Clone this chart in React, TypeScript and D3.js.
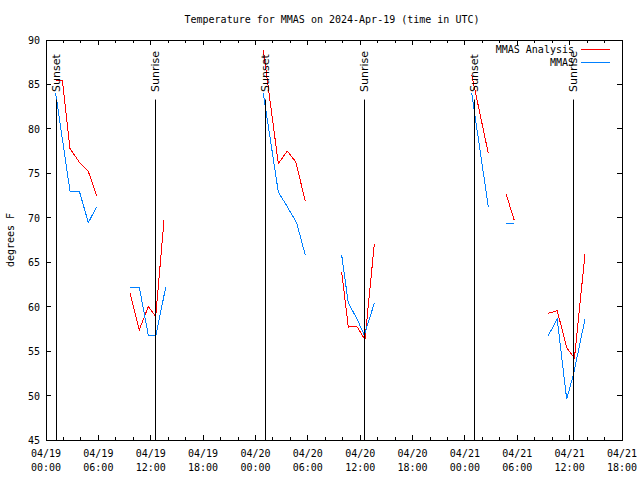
import React from "react";
import * as d3 from "d3";

// hours since 2024-04-19 00:00 UTC
const analysisHours: (number | null)[] = [1.2, 1.87, 2.75, 3.78, 4.85, 5.81, null, 9.63, 10.69, 11.72, 12.57, 13.52, null, 24.9, 26.62, 27.65, 28.61, 29.71, null, 33.88, 34.64, 35.6, 36.55, 37.62, null, 48.78, 50.68, null, 52.71, 53.66, null, 57.55, 58.58, 59.66, 60.55, 61.76];
const analysisTemps: (number | null)[] = [85.5, 85.5, 77.8, 76.3, 75.2, 72.5, null, 61.5, 57.4, 60.0, 58.9, 69.7, null, 88.9, 76.1, 77.5, 76.3, 71.9, null, 63.9, 57.7, 57.8, 56.3, 67.05, null, 86.1, 77.25, null, 72.7, 69.7, null, 59.25, 59.55, 55.4, 54.2, 65.9];

const obsHours: (number | null)[] = [1.11, 2.75, 3.82, 4.85, 5.81, null, 9.63, 10.69, 11.72, 12.6, 13.72, null, 24.9, 26.62, 27.65, 28.73, 29.71, null, 33.88, 34.64, 35.6, 36.47, 37.62, null, 48.78, 50.68, null, 52.71, 53.66, null, 57.55, 58.58, 59.66, 60.42, 61.76];
const obsTemps: (number | null)[] = [84.0, 73.0, 73.0, 69.45, 71.25, null, 62.2, 62.2, 56.8, 56.8, 62.2, null, 84.0, 72.9, 71.25, 69.4, 65.8, null, 65.8, 60.4, 58.7, 56.8, 60.4, null, 84.0, 71.25, null, 69.4, 69.4, null, 56.75, 58.6, 49.6, 52.3, 58.6];

const sunsetHours = [1.18, 25.09, 49.08];
const sunriseHours = [12.52, 36.47, 60.39];

const xTickHours = [0, 6, 12, 18, 24, 30, 36, 42, 48, 54, 60, 66];
const xTickDates = ["04/19", "04/19", "04/19", "04/19", "04/20", "04/20", "04/20", "04/20", "04/21", "04/21", "04/21", "04/21"];
const xTickTimes = ["00:00", "06:00", "12:00", "18:00", "00:00", "06:00", "12:00", "18:00", "00:00", "06:00", "12:00", "18:00"];
const yTicks = [45, 50, 55, 60, 65, 70, 75, 80, 85, 90];

const seriesNames = ["MMAS Analysis", "MMAS"];
const seriesColors = ["#ff0000", "#0080ff"];

const title = "Temperature for MMAS on 2024-Apr-19 (time in UTC)";
const yLabel = "degrees F";
const markerTop = 83.3;

export default function App() {
  const L = 46, R = 622, T = 40, B = 440;
  const x = d3.scaleLinear().domain([0, 66]).range([L, R]);
  const y = d3.scaleLinear().domain([45, 90]).range([B, T]);
  const mono = "'DejaVu Sans Mono', monospace";
  const sans = "'DejaVu Sans', sans-serif";

  const mk = (hs: (number | null)[], vs: (number | null)[]) => {
    const pts = hs.map((h, i) => [h, vs[i]] as [number | null, number | null]);
    return d3
      .line<[number | null, number | null]>()
      .defined((d) => d[0] != null && d[1] != null)
      .x((d) => x(d[0] as number))
      .y((d) => y(d[1] as number))(pts) as string;
  };

  const minorHours = d3.range(0, 67, 2);

  return (
    <svg width={640} height={480} style={{ display: "block", position: "absolute", left: 0, top: 0 }}>
      <rect width={640} height={480} fill="#fff" />
      <text x={332} y={23} textAnchor="middle" fontFamily={mono} fontSize={10}>{title}</text>
      <text transform={`translate(14,${(T + B) / 2}) rotate(-90)`} textAnchor="middle" fontFamily={mono} fontSize={10}>{yLabel}</text>

      {/* ticks */}
      <g stroke="#000" strokeWidth={1} shapeRendering="crispEdges">
        {minorHours.map((h) => {
          const len = h % 6 === 0 ? 5 : 3;
          return (
            <g key={"mx" + h}>
              <line x1={x(h)} x2={x(h)} y1={B} y2={B - len} />
              <line x1={x(h)} x2={x(h)} y1={T} y2={T + len} />
            </g>
          );
        })}
        {yTicks.map((v) => (
          <g key={"yt" + v}>
            <line x1={L} x2={L + 5} y1={y(v)} y2={y(v)} />
            <line x1={R} x2={R - 5} y1={y(v)} y2={y(v)} />
          </g>
        ))}
      </g>
      {yTicks.map((v) => (
        <text key={"yl" + v} x={L - 6} y={y(v) + 4} textAnchor="end" fontFamily={mono} fontSize={10}>{v}</text>
      ))}
      {xTickHours.map((h, i) => (
        <g key={"xl" + h}>
          <text x={x(h)} y={B + 17} textAnchor="middle" fontFamily={mono} fontSize={10}>{xTickDates[i]}</text>
          <text x={x(h)} y={B + 31} textAnchor="middle" fontFamily={mono} fontSize={10}>{xTickTimes[i]}</text>
        </g>
      ))}

      {/* data */}
      <path d={mk(analysisHours, analysisTemps)} fill="none" stroke={seriesColors[0]} strokeWidth={1} shapeRendering="crispEdges" />
      <path d={mk(obsHours, obsTemps)} fill="none" stroke={seriesColors[1]} strokeWidth={1} shapeRendering="crispEdges" />

      {/* sun markers */}
      {sunsetHours.map((h) => (
        <g key={"ss" + h}>
          <line x1={Math.round(x(h)) + 0.5} x2={Math.round(x(h)) + 0.5} y1={y(45)} y2={y(markerTop)} stroke="#000" strokeWidth={1} />
          <text transform={`translate(${x(h) + 4},92) rotate(-90)`} fontFamily={sans} fontSize={11}>Sunset</text>
        </g>
      ))}
      {sunriseHours.map((h) => (
        <g key={"sr" + h}>
          <line x1={Math.round(x(h)) + 0.5} x2={Math.round(x(h)) + 0.5} y1={y(45)} y2={y(markerTop)} stroke="#000" strokeWidth={1} />
          <text transform={`translate(${x(h) + 4},92) rotate(-90)`} fontFamily={sans} fontSize={11}>Sunrise</text>
        </g>
      ))}

      {/* legend */}
      {seriesNames.map((n, i) => (
        <g key={n}>
          <text x={574} y={53 + i * 13} textAnchor="end" fontFamily={mono} fontSize={10}>{n}</text>
          <line x1={581} x2={610} y1={49.5 + i * 13} y2={49.5 + i * 13} stroke={seriesColors[i]} strokeWidth={1} />
        </g>
      ))}

      <rect x={L + 0.5} y={T + 0.5} width={R - L} height={B - T} fill="none" stroke="#000" strokeWidth={1} shapeRendering="crispEdges" />
    </svg>
  );
}
